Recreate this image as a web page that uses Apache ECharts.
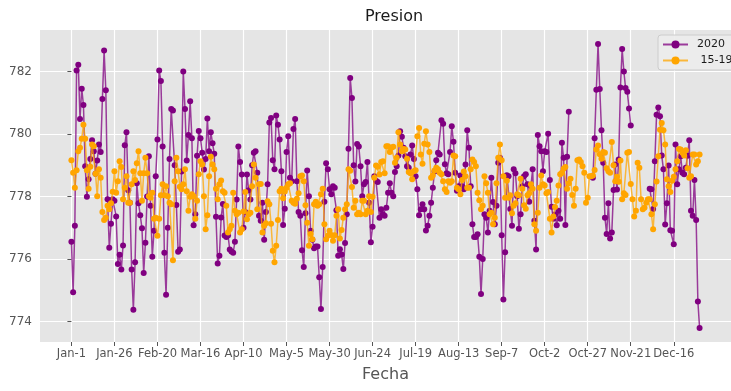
<!DOCTYPE html>
<html>
<head>
<meta charset="utf-8">
<script src="https://cdn.jsdelivr.net/npm/echarts@6/dist/echarts.min.js"></script>
<style>
  html, body { margin: 0; padding: 0; background: #ffffff; }
  #chart { width: 731px; height: 391px; }
</style>
</head>
<body>
<div id="chart"></div>
<script>
// Day-of-year positions (0 = Jan-1) of the x tick labels
const tickDays = [0, 25, 50, 75, 100, 125, 150, 175, 200, 225, 250, 275, 300, 325, 350];
const tickLabels = ['Jan-1', 'Jan-26', 'Feb-20', 'Mar-16', 'Apr-10', 'May-5', 'May-30', 'Jun-24',
                    'Jul-19', 'Aug-13', 'Sep-7', 'Oct-2', 'Oct-27', 'Nov-21', 'Dec-16'];
const yTicks = [774, 776, 778, 780, 782];

// Daily pressure 2020 (index = day of year, null = no reading)
const pres2020 = [
  776.55, 774.93, 777.06, 782.03, 782.22, 780.48, 781.45, 780.93, 778.97, 777.99,
  778.55, 779.2, 779.8, 779.45, 778.73, 779.15, 779.66, 779.42, 781.12, 782.67,
  781.4, 777.91, 776.36, 777.13, 777.91, 777.86, 777.36, 775.84, 776.13, 775.66,
  776.43, 779.64, 780.06, 778.2, 777.8, 775.66, 774.37, 775.89, 778.42, 777.78,
  777.4, 776.98, 775.55, 776.52, 778.0, 779.29, 777.7, 776.07, 776.9, 778.65,
  779.82, 782.03, 781.7, 779.6, 776.2, 774.85, 777.0, 779.2, 780.8, 780.75,
  779.0, 777.73, 776.23, 776.3, 778.8, 782.0, 780.8, 779.15, 779.97, 781.05,
  779.86, 777.08, 777.43, 779.3, 780.1, 779.86, 779.4, 778.86, 779.2, 780.5,
  779.45, 780.06, 779.7, 779.37, 777.35, 775.85, 776.1, 777.33, 777.76, 776.75,
  776.7, 776.75, 776.3, 776.24, 776.2, 776.55, 777.9, 779.6, 779.1, 778.7,
  777.0, 777.5, 778.7, 778.2, 777.9, 779.0, 779.4, 779.45, 778.76, 777.38,
  777.22, 777.8, 776.61, 777.5, 778.39, 780.37, 780.51, 779.16, 778.87, 780.59,
  780.3, 779.82, 778.81, 777.09, 777.61, 779.42, 779.93, 778.6, 778.49, 780.16,
  780.48, 778.49, 777.5, 777.38, 776.28, 775.74, 777.46, 778.83, 778.01, 776.9,
  776.61, 776.34, 776.4, 776.4, 775.41, 774.4, 775.74, 777.83, 779.06, 778.87,
  778.23, 778.07, 778.33, 778.28, 777.56, 776.1, 776.31, 776.14, 775.68, 776.51,
  777.43, 779.53, 781.79, 781.15, 779.0, 778.48, 779.68, 779.6, 778.97, 778.01,
  778.39, 778.46, 779.1, 777.8, 776.53, 777.03, 778.65, 778.5, 778.46, 777.32,
  777.59, 777.43, 777.38, 777.64, 778.12, 778.42, 778.12, 778.01, 778.78, 778.97,
  779.31, 780.09, 779.91, 779.56, 779.29, 778.97, 778.92, 779.34, 779.63, 779.2,
  778.65, 778.23, 777.4, 777.59, 777.75, 777.59, 776.91, 777.06, 777.38, 777.8,
  778.28, 778.8, 779.16, 779.4, 779.34, 780.44, 780.33, 779.03, 778.74, 778.71,
  779.42, 780.25, 779.75, 778.76, 778.18, 778.33, 778.67, 778.33, 778.23, 779.02,
  780.12, 779.56, 778.33, 777.11, 776.7, 776.7, 776.79, 776.07, 774.88, 776.0,
  777.43, 777.32, 776.85, 777.54, 778.6, 777.82, 777.11, 777.7, 779.08, 779.24,
  776.76, 774.7, 776.21, 778.68, 778.65, 777.6, 777.06, 778.87, 778.74, 778.01,
  776.97, 777.43, 778.33, 778.65, 778.71, 778.39, 777.83, 778.33, 778.87, 777.22,
  776.3, 779.97, 779.61, 779.45, 778.81, 779.45, 779.42, 780.01, 778.53, 777.67,
  777.29, 777.42, 777.08, 777.54, 777.29, 779.72, 779.24, 777.09, 779.27, 780.71,
  null, null, null, null, null, null, null, null, null, null,
  null, null, null, 778.6, 779.86, 781.42, 782.88, 781.44, 780.12, 779.08,
  777.32, 776.8, 777.78, 776.65, 776.85, 778.21, 779.02, 778.22, 779.18, 781.49,
  782.72, 782.0, 781.47, 781.35, 780.82, 780.27, null, null, null, null,
  null, null, null, null, null, null, 778.25, 778.23, 777.6, 779.13,
  780.62, 780.85, 780.57, 779.31, 778.87, 777.1, 777.78, 778.99, 776.92, 776.9,
  776.47, 779.66, 778.39, 778.87, 779.29, 778.76, 778.71, 778.92, 779.3, 779.8,
  777.54, 777.38, 778.53, 777.25, 774.64, 773.79
];

// Daily mean pressure 2015-2019 (index = day of year)
const pres1519 = [
  779.16, 778.76, 778.28, 778.84, 779.45, 779.56, 779.85, 780.3, 779.85, 778.84,
  778.25, 778.95, 779.66, 779.61, 778.73, 778.01, 778.87, 778.6, 777.5, 777.25,
  777.32, 777.7, 777.59, 777.78, 778.15, 778.81, 778.12, 778.49, 779.13, 778.94,
  777.91, 778.28, 778.65, 777.8, 777.8, 778.39, 778.81, 778.53, 779.06, 779.45,
  778.74, 777.86, 778.74, 779.24, 778.74, 778.01, 777.96, 778.12, 777.29, 777.32,
  776.74, 777.29, 778.04, 778.39, 778.04, 778.33, 778.01, 777.8, 777.75, 775.96,
  778.49, 779.24, 778.81, 778.31, 778.23, 778.39, 778.87, 778.17, 777.54, 777.99,
  778.07, 778.01, 777.29, 777.86, 778.71, 779.13, 779.02, 778.01, 776.95, 777.4,
  778.65, 779.27, 779.02, 778.87, 778.25, 777.91, 778.39, 778.51, 778.17, 778.12,
  777.7, 776.85, 776.95, 777.06, 778.12, 777.54, 777.43, 777.48, 776.85, 776.95,
  777.52, 778.14, 777.27, 777.43, 777.48, 778.33, 779.02, 778.6, 777.59, 778.39,
  778.4, 776.85, 777.06, 777.14, 777.85, 777.75, 777.13, 776.26, 775.89, 776.42,
  777.25, 778.17, 778.25, 777.94, 778.16, 778.28, 778.39, 778.42, 777.86, 777.8,
  777.77, 777.93, 778.1, 778.65, 778.67, 778.49, 777.72, 777.16, 776.42, 776.8,
  776.63, 777.75, 777.83, 777.7, 777.75, 778.07, 778.25, 777.11, 776.63, 776.74,
  776.9, 776.77, 776.58, 776.76, 777.38, 777.59, 776.65, 776.93, 777.32, 777.59,
  777.75, 778.87, 778.82, 778.3, 777.64, 777.86, 777.43, 777.48, 777.43, 777.86,
  777.86, 777.43, 777.54, 778.01, 777.5, 777.99, 778.6, 778.99, 778.95, 778.7,
  779.1, 779.13, 778.74, 779.61, 779.61, 779.42, 779.56, 779.59, 779.08, 779.24,
  780.06, 779.66, 779.45, 779.52, 779.5, 779.21, 778.78, 778.74, 778.55, 778.81,
  778.84, 779.93, 780.19, 779.34, 779.05, 779.69, 780.09, 779.66, 779.42, 778.6,
  778.67, 778.83, 778.92, 778.87, 778.76, 778.71, 778.49, 778.23, 778.14, 778.49,
  778.44, 778.49, 779.31, 779.29, 778.28, 778.23, 778.07, 778.53, 778.8, 778.65,
  778.28, 778.28, 778.87, 779.18, 779.1, 778.97, 778.12, 777.88, 777.59, 777.7,
  778.65, 778.42, 778.12, 777.43, 777.48, 777.11, 777.32, 778.42, 779.24, 779.66,
  779.16, 778.65, 777.96, 778.5, 777.96, 778.04, 777.46, 777.7, 777.78, 778.07,
  778.04, 778.57, 778.25, 777.72, 777.61, 778.04, 778.1, 778.39, 778.25, 777.11,
  776.9, 777.48, 778.28, 778.67, 778.39, 778.35, 778.1, 778.14, 777.29, 776.85,
  777.36, 777.66, 777.86, 778.35, 778.71, 778.76, 778.89, 778.94, 778.25, 778.42,
  778.57, 778.05, 777.7, 778.25, 779.16, 779.18, 779.1, 778.97, 778.76, 777.8,
  777.96, 778.65, 778.65, 778.67, 778.85, 779.5, 779.63, 779.35, 779.21, 779.42,
  779.4, 778.9, 778.81, 778.76, 779.74, 779.0, 778.49, 778.63, 778.47, 779.15,
  777.91, 778.1, 778.05, 779.4, 779.42, 778.4, 777.91, 777.36, 777.54, 779.08,
  778.92, 777.91, 777.59, 777.64, 777.8, 777.91, 777.91, 777.43, 776.95, 777.75,
  778.48, 779.29, 780.14, 780.35, 780.12, 779.66, 778.55, 778.33, 778.14, 778.5,
  778.63, 778.87, 779.13, 779.52, 779.5, 779.4, 779.31, 779.48, 778.9, 778.6,
  778.65, 779.34, 779.34, 779.02, 779.13, 779.34
];

const font = 'DejaVu Sans';
const toPoints = arr => arr.map((v, i) => [i, v]);

const chart = echarts.init(document.getElementById('chart'), null, { renderer: 'canvas' });

chart.setOption({
  animation: false,
  backgroundColor: '#ffffff',
  title: {
    text: 'Presion',
    left: 360,
    top: 4,
    textStyle: { fontFamily: font, fontSize: 16, fontWeight: 'normal', color: '#1a1a1a' }
  },
  grid: {
    left: 40, top: 30, width: 704, height: 312,
    show: true, backgroundColor: '#E5E5E5', borderWidth: 0
  },
  legend: {
    orient: 'vertical',
    left: 658, top: 35,
    itemWidth: 25, itemHeight: 10, itemGap: 5,
    padding: [4, 40, 4, 4],
    backgroundColor: 'rgba(236,236,236,0.9)',
    borderColor: '#cccccc', borderWidth: 1, borderRadius: 3,
    textStyle: { fontFamily: font, fontSize: 11, color: '#1a1a1a', padding: [0, 0, 0, 4] },
    data: ['2020', ' 15-19']
  },
  xAxis: {
    type: 'value',
    min: -18.25, max: 383.25,
    name: 'Fecha',
    nameLocation: 'middle',
    nameGap: 25,
    nameTextStyle: { fontFamily: font, fontSize: 16, color: '#555555' },
    axisLine: { show: false },
    axisTick: { show: true, customValues: tickDays, length: 4, lineStyle: { color: '#555555', width: 1 } },
    axisLabel: {
      customValues: tickDays,
      margin: 6,
      fontFamily: font, fontSize: 11.5, color: '#555555',
      formatter: v => tickLabels[tickDays.indexOf(Math.round(v))] || ''
    },
    splitLine: { show: true, lineStyle: { color: '#ffffff', width: 1.2 } }
  },
  yAxis: {
    type: 'value',
    min: 773.34, max: 783.33,
    axisLine: { show: false },
    axisTick: { show: true, customValues: yTicks, length: 4, lineStyle: { color: '#555555', width: 1 } },
    axisLabel: {
      customValues: yTicks,
      margin: 8,
      fontFamily: font, fontSize: 12, color: '#555555',
      formatter: v => String(Math.round(v))
    },
    splitLine: { show: true, lineStyle: { color: '#ffffff', width: 1.2 } }
  },
  series: [
    {
      name: '2020',
      type: 'line',
      data: toPoints(pres2020),
      symbol: 'circle', symbolSize: 6, showSymbol: true,
      connectNulls: false,
      itemStyle: { color: '#800080' },
      lineStyle: { color: '#800080', width: 1.5, opacity: 0.75 },
      z: 2
    },
    {
      name: ' 15-19',
      type: 'line',
      data: toPoints(pres1519),
      symbol: 'circle', symbolSize: 6, showSymbol: true,
      itemStyle: { color: '#FFA500' },
      lineStyle: { color: '#FFA500', width: 1.5, opacity: 0.75 },
      z: 3
    }
  ]
});
</script>
</body>
</html>
